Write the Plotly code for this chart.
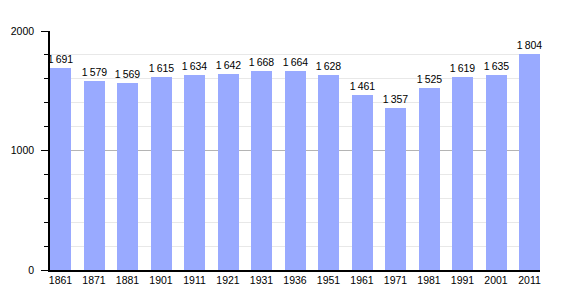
import plotly.graph_objects as go

years = ["1861", "1871", "1881", "1901", "1911", "1921", "1931", "1936",
         "1951", "1961", "1971", "1981", "1991", "2001", "2011"]
population = [1691, 1579, 1569, 1615, 1634, 1642, 1668, 1664,
              1628, 1461, 1357, 1525, 1619, 1635, 1804]
labels = [f"{v // 1000}\u2009{v % 1000:03d}" for v in population]

bar_w = 0.627
fig = go.Figure(go.Bar(
    x=years, y=population, width=bar_w,
    marker=dict(color="#99aaff", line=dict(width=0)),
    text=labels, textposition="outside", cliponaxis=False,
    constraintext="none",
    textfont=dict(family="Liberation Sans, Arial, sans-serif", size=10.5, color="black"),
    hoverinfo="skip",
))

fig.update_layout(
    width=570, height=300,
    margin=dict(l=50, r=30, t=31, b=30),
    paper_bgcolor="white", plot_bgcolor="white",
    showlegend=False,
    bargap=0,
    font=dict(family="Liberation Sans, Arial, sans-serif", size=10, color="black"),
)
fig.update_xaxes(
    type="category", range=[-bar_w / 2, len(years) - 1 + bar_w / 2],
    showline=True, linecolor="black", linewidth=1.5,
    ticks="", showgrid=False, tickfont=dict(size=10.5),
    fixedrange=True,
)
fig.update_yaxes(
    range=[0, 2000], tickvals=[0, 1000, 2000],
    showline=True, linecolor="black", linewidth=1.5,
    ticks="outside", ticklen=7, tickcolor="black", tickwidth=1,
    ticklabelstandoff=5,
    showgrid=True, gridcolor="#b4b4b4", gridwidth=1,
    zeroline=False,
    minor=dict(dtick=200, showgrid=True, gridcolor="#e8e8e8", gridwidth=1,
               ticks="outside", ticklen=4, tickcolor="black"),
    tickfont=dict(size=10.5),
    fixedrange=True,
)

fig.write_html("out.html")
